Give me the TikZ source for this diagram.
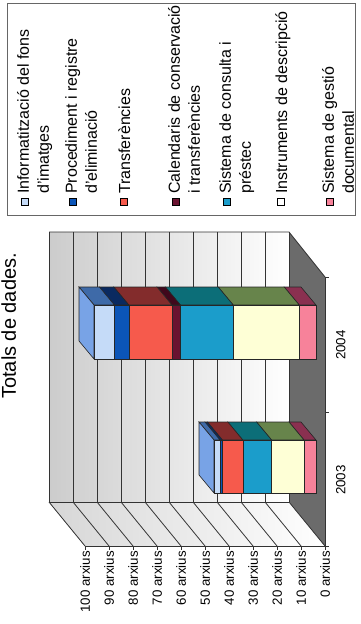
\documentclass[tikz,border=0pt]{standalone}
\usepackage{fontspec}
\setmainfont{Liberation Sans}
\usepackage{tikz}

\definecolor{imatges}{HTML}{C5DBF8}
\definecolor{imatgesTop}{HTML}{3E6AA8}
\definecolor{imatgesCap}{HTML}{78A3E6}
\definecolor{proced}{HTML}{0B55B8}
\definecolor{procedTop}{HTML}{0A2A60}
\definecolor{transf}{HTML}{F65A4C}
\definecolor{transfTop}{HTML}{832C2C}
\definecolor{calend}{HTML}{6A1230}
\definecolor{calendTop}{HTML}{40081C}
\definecolor{consulta}{HTML}{1B9DCB}
\definecolor{consultaTop}{HTML}{0C6E78}
\definecolor{instr}{HTML}{FEFFD6}
\definecolor{instrTop}{HTML}{67844B}
\definecolor{gestio}{HTML}{F7829A}
\definecolor{gestioTop}{HTML}{8A3050}

\tikzset{
  gridline/.style={draw=black!80, line width=0.8pt},
  face/.style={draw=black!85, line width=0.6pt},
  axislab/.style={rotate=90, anchor=east, inner sep=0pt, font=\fontsize{13.3}{16}\selectfont},
  legtext/.style={rotate=90, anchor=north west, inner sep=0pt, align=left,
    font=\fontsize{16}{20}\selectfont, execute at begin node=\strut},
  legmark/.style={draw=black, line width=0.6pt, minimum size=7pt, inner sep=0pt}
}

\begin{document}
\begin{tikzpicture}[x=1pt, y=-1pt]
      \useasboundingbox (0,0) rectangle (361,624);
      \clip (0,0) rectangle (361,624);

      % title
      \node[rotate=90, anchor=base west, inner sep=0pt, font=\fontsize{20}{24}\selectfont] (title) at (16, 399) {Totals de dades.};

      % walls and floor
      \fill[left color=black!20, right color=white] (49,232) rectangle (289,502);
      \fill[left color=black!16, right color=white] (49,502) -- (289,502) -- (325,546) -- (85,546) -- cycle;
      \fill[black!58] (289,232) -- (325,277) -- (325,546) -- (289,502) -- cycle;

      % back wall lines
      \draw[gridline] (49,232) -- (49,502);
      \draw[gridline] (73,232) -- (73,502);
      \draw[gridline] (97,232) -- (97,502);
      \draw[gridline] (121,232) -- (121,502);
      \draw[gridline] (145,232) -- (145,502);
      \draw[gridline] (169,232) -- (169,502);
      \draw[gridline] (193,232) -- (193,502);
      \draw[gridline] (217,232) -- (217,502);
      \draw[gridline] (241,232) -- (241,502);
      \draw[gridline] (265,232) -- (265,502);
      \draw[gridline] (289,232) -- (289,502);
      \draw[gridline] (49,232) -- (289,232) -- (325,277);
      \draw[gridline] (49,502) -- (289,502);

      % side wall lines
      \draw[gridline] (85,546) -- (49,502);
      \draw[gridline] (109,546) -- (73,502);
      \draw[gridline] (133,546) -- (97,502);
      \draw[gridline] (157,546) -- (121,502);
      \draw[gridline] (181,546) -- (145,502);
      \draw[gridline] (205,546) -- (169,502);
      \draw[gridline] (229,546) -- (193,502);
      \draw[gridline] (253,546) -- (217,502);
      \draw[gridline] (277,546) -- (241,502);
      \draw[gridline] (301,546) -- (265,502);
      \draw[gridline] (325,546) -- (289,502);

      % axes
      \draw[gridline] (85,546) -- (325,546) -- (325,277);
      \draw[gridline] (85,546) -- ++(0,4) (109,546) -- ++(0,4) (133,546) -- ++(0,4)
        (157,546) -- ++(0,4) (181,546) -- ++(0,4) (205,546) -- ++(0,4) (229,546) -- ++(0,4)
        (253,546) -- ++(0,4) (277,546) -- ++(0,4) (301,546) -- ++(0,4) (325,546) -- ++(0,4);
      \draw[gridline] (325,277) -- ++(4,0) (325,412) -- ++(4,0) (325,546) -- ++(4,0);

      \node[axislab] (v100) at (85,551) {100 arxius};
      \node[axislab] (v90) at (109,551) {90 arxius};
      \node[axislab] (v80) at (133,551) {80 arxius};
      \node[axislab] (v70) at (157,551) {70 arxius};
      \node[axislab] (v60) at (181,551) {60 arxius};
      \node[axislab] (v50) at (205,551) {50 arxius};
      \node[axislab] (v40) at (229,551) {40 arxius};
      \node[axislab] (v30) at (253,551) {30 arxius};
      \node[axislab] (v20) at (277,551) {20 arxius};
      \node[axislab] (v10) at (301,551) {10 arxius};
      \node[axislab] (v0) at (325,551) {0 arxius};

      \node[rotate=90, anchor=north, inner sep=0pt, font=\fontsize{13.3}{16}\selectfont] (y2004) at (336,345) {2004};
      \node[rotate=90, anchor=north, inner sep=0pt, font=\fontsize{13.3}{16}\selectfont] (y2003) at (336,480) {2003};

      % bar 2004
      \filldraw[face, fill=gestioTop] (316,305) -- (299.2,305) -- (284.2,287) -- (301,287) -- cycle;
      \filldraw[face, fill=instrTop] (299.2,305) -- (233.2,305) -- (218.2,287) -- (284.2,287) -- cycle;
      \filldraw[face, fill=consultaTop] (233.2,305) -- (180.4,305) -- (165.4,287) -- (218.2,287) -- cycle;
      \filldraw[face, fill=calendTop] (180.4,305) -- (172,305) -- (157,287) -- (165.4,287) -- cycle;
      \filldraw[face, fill=transfTop] (172,305) -- (128.8,305) -- (113.8,287) -- (157,287) -- cycle;
      \filldraw[face, fill=procedTop] (128.8,305) -- (114.4,305) -- (99.4,287) -- (113.8,287) -- cycle;
      \filldraw[face, fill=imatgesTop] (114.4,305) -- (94,305) -- (79,287) -- (99.4,287) -- cycle;
      \filldraw[face, fill=imatgesCap] (94,305) -- (94,359) -- (79,341) -- (79,287) -- cycle;
      \filldraw[face, fill=gestio] (299.2,305) rectangle (316,359);
      \filldraw[face, fill=instr] (233.2,305) rectangle (299.2,359);
      \filldraw[face, fill=consulta] (180.4,305) rectangle (233.2,359);
      \filldraw[face, fill=calend] (172,305) rectangle (180.4,359);
      \filldraw[face, fill=transf] (128.8,305) rectangle (172,359);
      \filldraw[face, fill=proced] (114.4,305) rectangle (128.8,359);
      \filldraw[face, fill=imatges] (94,305) rectangle (114.4,359);

      % bar 2003
      \filldraw[face, fill=gestioTop] (316,440) -- (304,440) -- (289,422) -- (301,422) -- cycle;
      \filldraw[face, fill=instrTop] (304,440) -- (271.6,440) -- (256.6,422) -- (289,422) -- cycle;
      \filldraw[face, fill=consultaTop] (271.6,440) -- (242.8,440) -- (227.8,422) -- (256.6,422) -- cycle;
      \filldraw[face, fill=transfTop] (242.8,440) -- (222.4,440) -- (207.4,422) -- (227.8,422) -- cycle;
      \filldraw[face, fill=procedTop] (222.4,440) -- (220,440) -- (205,422) -- (207.4,422) -- cycle;
      \filldraw[face, fill=imatgesTop] (220,440) -- (214,440) -- (199,422) -- (205,422) -- cycle;
      \filldraw[face, fill=imatgesCap] (214,440) -- (214,493) -- (199,475) -- (199,422) -- cycle;
      \filldraw[face, fill=gestio] (304,440) rectangle (316,493);
      \filldraw[face, fill=instr] (271.6,440) rectangle (304,493);
      \filldraw[face, fill=consulta] (242.8,440) rectangle (271.6,493);
      \filldraw[face, fill=transf] (222.4,440) rectangle (242.8,493);
      \filldraw[face, fill=proced] (220,440) rectangle (222.4,493);
      \filldraw[face, fill=imatges] (214,440) rectangle (220,493);

      % legend
      \draw[black!60, line width=1pt] (7,3) rectangle (355,215);
      \node[legmark, fill=imatges] (m1) at (24.5,202) {};
      \node[legmark, fill=proced] (m2) at (72.5,202) {};
      \node[legmark, fill=transf] (m3) at (123.5,202) {};
      \node[legmark, fill=calend] (m4) at (175.5,202) {};
      \node[legmark, fill=consulta] (m5) at (226.5,202) {};
      \node[legmark, fill=white] (m6) at (280.5,202) {};
      \node[legmark, fill=gestio] (m7) at (329.5,202) {};
      \node[legtext] (l1) at (17,194) {Informatització del fons\\d'imatges};
      \node[legtext] (l2) at (65,194) {Procediment i registre\\d'eliminació};
      \node[legtext] (l3) at (116,194) {Transferències};
      \node[legtext] (l4) at (168,194) {Calendaris de conservació\\i transferències};
      \node[legtext] (l5) at (219,194) {Sistema de consulta i\\préstec};
      \node[legtext] (l6) at (273,194) {Instruments de descripció};
      \node[legtext] (l7) at (322,194) {Sistema de gestió\\documental};
    \end{tikzpicture}
\end{document}
